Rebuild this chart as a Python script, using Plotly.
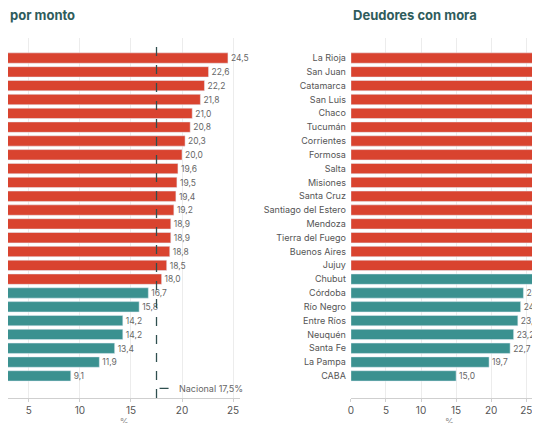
import plotly.graph_objects as go

RED = "#d9432f"
TEAL = "#3b9190"

monto_vals = [24.5, 22.6, 22.2, 21.8, 21.0, 20.8, 20.3, 20.0, 19.6, 19.5, 19.4, 19.2,
              18.9, 18.9, 18.8, 18.5, 18.0,
              16.7, 15.8, 14.2, 14.2, 13.4, 11.9, 9.1]
monto_nacional = 17.5

mora_prov = ["La Rioja", "San Juan", "Catamarca", "San Luis", "Chaco", "Tucumán",
             "Corrientes", "Formosa", "Salta", "Misiones", "Santa Cruz",
             "Santiago del Estero", "Mendoza", "Tierra del Fuego", "Buenos Aires",
             "Jujuy", "Chubut", "Córdoba", "Río Negro", "Entre Ríos", "Neuquén",
             "Santa Fe", "La Pampa", "CABA"]
mora_vals = [38.0, 36.5, 35.0, 34.0, 33.0, 32.5, 32.0, 31.5, 31.0, 30.5, 30.0, 29.5,
             27.9, 27.2, 27.0, 26.7, 26.4, 24.6, 24.2, 23.8, 23.2, 22.7, 19.7, 15.0]
mora_nacional = 26.3
# Chubut se muestra en verde en el original
mora_colors = [RED] * 16 + [TEAL] * 8


def fmt(v):
    return f"{v:.1f}".replace(".", ",")


idx = list(range(len(monto_vals)))

fig = go.Figure()
fig.add_trace(go.Bar(
    x=monto_vals, y=idx, orientation="h", xaxis="x", yaxis="y",
    marker_color=[RED if v > monto_nacional else TEAL for v in monto_vals],
    text=[fmt(v) for v in monto_vals], textposition="outside",
    textfont=dict(size=9, color="#666"), cliponaxis=False, showlegend=False,
))
fig.add_trace(go.Bar(
    x=mora_vals, y=mora_prov, orientation="h", xaxis="x2", yaxis="y2",
    marker_color=mora_colors,
    text=[fmt(v) for v in mora_vals], textposition="outside",
    textfont=dict(size=9, color="#666"), cliponaxis=False, showlegend=False,
))

axis_common = dict(
    showgrid=True, gridcolor="#ececec", zeroline=False, automargin=False,
    showline=True, linecolor="#cfcfcf", ticks="outside", tickcolor="#cfcfcf",
    ticklen=3, tickfont=dict(size=10, color="#555"),
    title=dict(text="%", font=dict(size=9, color="#888"), standoff=0),
    dtick=5,
)

fig.update_layout(
    width=540, height=423,
    margin=dict(l=0, r=0, t=30, b=33),
    paper_bgcolor="white", plot_bgcolor="white",
    font=dict(family="Inter, sans-serif"),
    bargap=0.25,
    xaxis=dict(domain=[0, 0.43], range=[2.95, 25.7], **axis_common),
    xaxis2=dict(domain=[0.635, 1], range=[0, 28.1], **axis_common),
    yaxis=dict(range=[24.6, -1.45], showticklabels=False, showgrid=False,
               zeroline=False, showline=False, anchor="x", automargin=False),
    yaxis2=dict(range=[24.6, -1.45], showgrid=False, zeroline=False, showline=False,
                anchor="x2", automargin=False,
                tickfont=dict(size=9, color="#555"), ticks="", ticklabelstandoff=4),
    shapes=[
        dict(type="line", xref="x", yref="paper", x0=monto_nacional, x1=monto_nacional,
             y0=0, y1=1, line=dict(color="#2f4f4f", width=1.3, dash="dash")),
        dict(type="line", xref="x2", yref="paper", x0=mora_nacional, x1=mora_nacional,
             y0=0, y1=1, line=dict(color="#2f4f4f", width=1.3, dash="dash")),
        dict(type="line", xref="x", yref="y", x0=17.8, x1=19.2, y0=23.9, y1=23.9,
             line=dict(color="#2f4f4f", width=1.3, dash="dash")),
        dict(type="line", xref="x2", yref="y2", x0=26.6, x1=28.1, y0=23.9, y1=23.9,
             line=dict(color="#2f4f4f", width=1.3, dash="dash")),
    ],
    annotations=[
        dict(text="<b>por monto</b>", xref="paper", yref="paper", x=0, y=1.035,
             xanchor="left", yanchor="bottom", showarrow=False,
             font=dict(size=13, color="#2f5c5c")),
        dict(text="<b>Deudores con mora</b>", xref="paper", yref="paper", x=0.635,
             y=1.035, xanchor="left", yanchor="bottom", showarrow=False,
             font=dict(size=13, color="#2f5c5c")),
        dict(text="Nacional 17,5%", xref="x", yref="y", x=19.5, y=23.9,
             xanchor="left", showarrow=False, font=dict(size=9, color="#666")),
    ],
)

fig.write_html("out.html")
